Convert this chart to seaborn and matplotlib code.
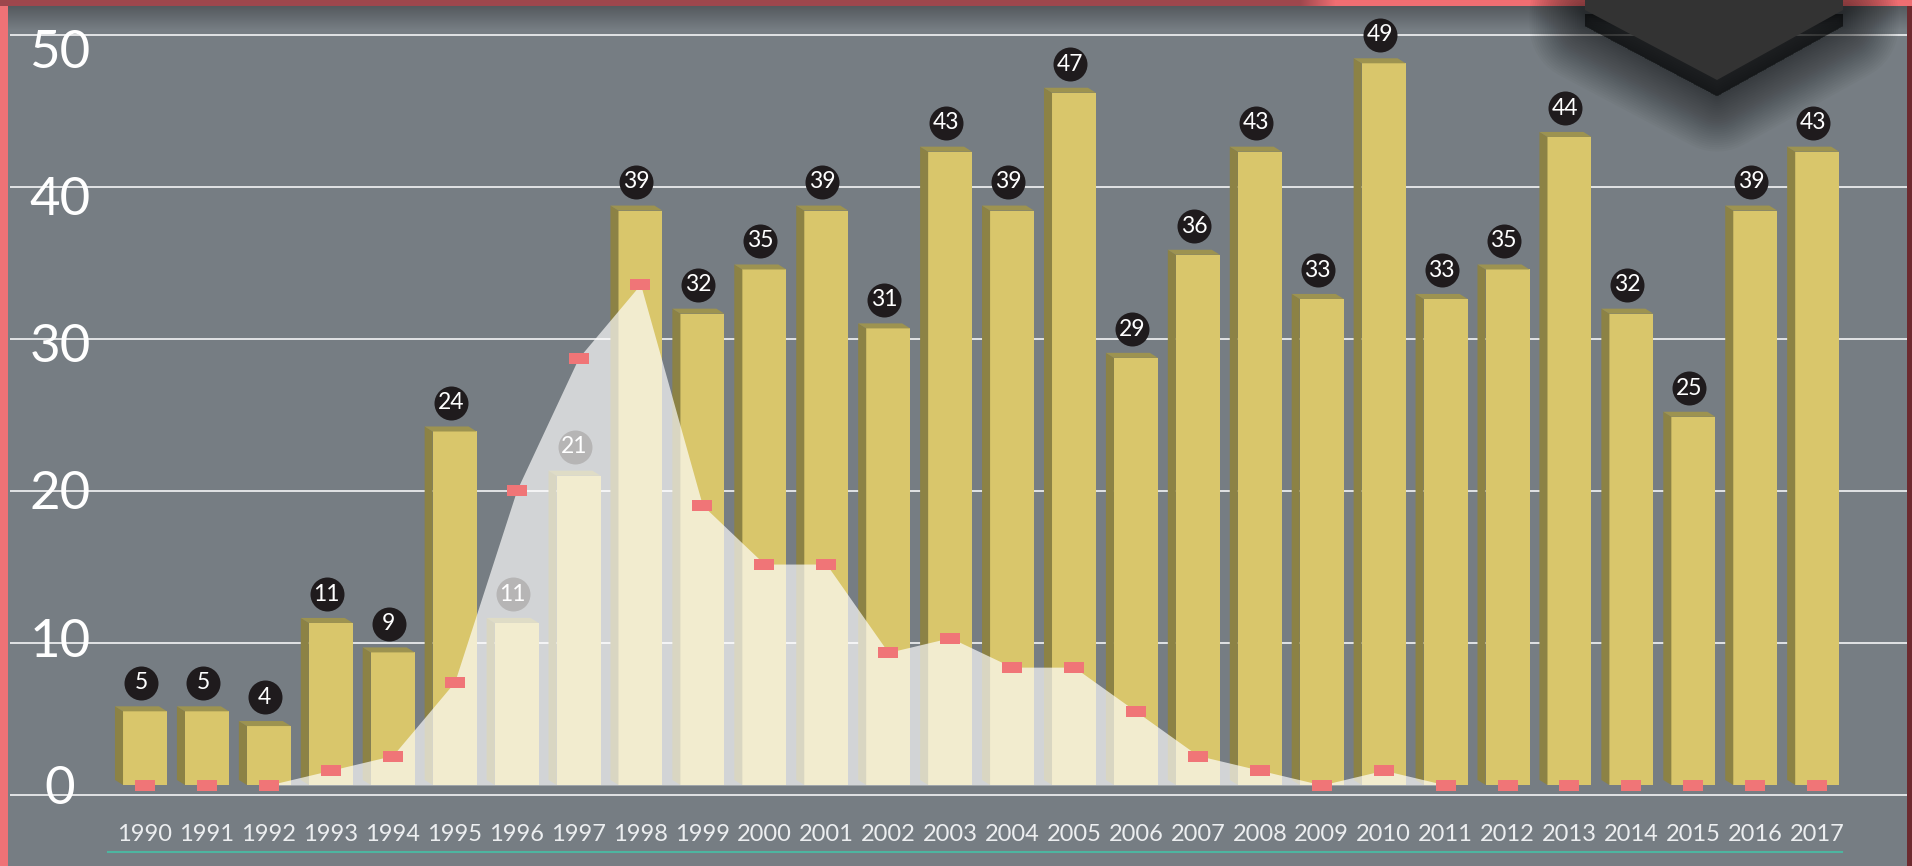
import matplotlib
matplotlib.use('Agg')
import matplotlib.pyplot as plt
from matplotlib import font_manager
from matplotlib.patches import Polygon, Rectangle
import numpy as np
import pandas as pd
import seaborn as sns

# values
years = [str(y) for y in range(1990, 2018)]
totals = [5, 5, 4, 11, 9, 24, 11, 21, 39, 32, 35, 39, 31, 43, 39, 47, 29, 36,
          43, 33, 49, 33, 35, 44, 32, 25, 39, 43]
second = [0, 0, 0, 1, 2, 7, 20, 29, 34, 19, 15, 15, 9, 10, 8, 8, 5, 2, 1, 0,
          1, 0, 0, 0, 0, 0, 0, 0]
grid_values = [0, 10, 20, 30, 40, 50]

# colours
BG = '#767d83'
FRONT = '#d9c66b'
SIDE = '#8c8245'
TOP = '#9d9350'
RED = '#f07577'
BADGE = '#1f1b1d'

installed = {f.name for f in font_manager.fontManager.ttflist}
FONT = next((f for f in ['Lato', 'Roboto', 'Open Sans', 'DejaVu Sans'] if f in installed), 'DejaVu Sans')
plt.rcParams['font.family'] = [FONT, 'DejaVu Sans']
plt.rcParams['font.weight'] = 'normal'

W, H = 1912, 866
fig = plt.figure(figsize=(W / 100, H / 100), dpi=100, facecolor=BG)
L, R, T, B = 10, 1907, 6, 810
rect = [L / W, 1 - B / H, (R - L) / W, (B - T) / H]

# the gridlines of the original sit a little off the bar scale
ax_grid = fig.add_axes(rect)
ax_grid.set_xlim(0, 1)
ax_grid.set_ylim(-0.99, 51.91)
for v in grid_values:
    ax_grid.axhline(v, color='white', lw=1.1)
ax_grid.axis('off')

ax = fig.add_axes(rect)
ax.patch.set_alpha(0)
df = pd.DataFrame({'year': years, 'total': totals, 'second': second})

sns.barplot(data=df, x='year', y='total', color=FRONT, saturation=1, width=0.71,
            errorbar=None, linewidth=0, zorder=2, ax=ax)

# fake 3d: side and top faces
dx, dy = 0.13, 0.34
for p in list(ax.patches):
    x0, w, h = p.get_x(), p.get_width(), p.get_height()
    ax.add_patch(Polygon([(x0, 0), (x0 - dx, dy), (x0 - dx, h + dy), (x0, h)],
                         closed=True, fc=SIDE, lw=0, zorder=2))
    ax.add_patch(Polygon([(x0, h), (x0 - dx, h + dy), (x0 + w - dx, h + dy), (x0 + w, h)],
                         closed=True, fc=TOP, lw=0, zorder=2))

# value badges
pos = np.arange(len(years))
ax.scatter(pos - 0.065, np.array(totals) + 1.95, s=(34 * 0.72) ** 2, color=BADGE,
           linewidths=0, zorder=3)
for x, v in zip(pos, totals):
    ax.text(x - 0.065, v + 1.95, str(v), color='white', fontsize=16.5, ha='center',
            va='center', zorder=4)

# second series: translucent area + red ticks
ax.fill_between(pos, 0, second, color='white', alpha=0.68, lw=0, zorder=5)
rect_marker = [(-1, -0.55), (1, -0.55), (1, 0.55), (-1, 0.55)]
sns.scatterplot(data=df, x='year', y='second', marker=rect_marker, s=14.4 ** 2,
                color=RED, linewidth=0, zorder=6, ax=ax)

ax.set_xlim(-2.18, 28.45)
ax.set_ylim(-1.70, 52.89)
ax.set_yticks(grid_values)
ax.tick_params(axis='y', length=0, pad=-36, labelsize=38, labelcolor='white')
for lab in ax.get_yticklabels():
    lab.set_ha('center')
ax.tick_params(axis='x', length=0, pad=10, labelsize=17, labelcolor='#eceef0')
ax.set_xlabel('')
ax.set_ylabel('')
for s in ax.spines.values():
    s.set_visible(False)

# frame decorations in pixel coordinates
ax_d = fig.add_axes([0, 0, 1, 1], zorder=20)
ax_d.patch.set_alpha(0)
ax_d.axis('off')

ax_d.add_patch(Rectangle((0, 0), 8, H, color='#ef7276', lw=0, zorder=1))
ax_d.add_patch(Rectangle((1907, 0), 5, H, color='#6d2a2f', lw=0, zorder=1))

xs = np.arange(W)
t = np.clip((xs - 1300) / 35.0, 0, 1)[:, None]
dark = np.array([158, 71, 77]) / 255
bright = np.array([239, 110, 114]) / 255
strip = dark * (1 - t) + bright * t
ax_d.imshow(strip[None, :, :], extent=(0, W, 6, 0), aspect='auto', zorder=2,
            interpolation='bilinear')

shade = np.zeros((24, 1, 4))
shade[:, 0, 3] = np.linspace(0.28, 0, 24)
ax_d.imshow(shade, extent=(8, 1907, 30, 6), aspect='auto', zorder=2,
            interpolation='bilinear')

tab = [(1585, -2), (1843, -2), (1843, 10), (1717, 80), (1585, 10)]
for lw in np.linspace(80, 2, 26):
    ax_d.add_patch(Polygon([(x, y + 16) for x, y in tab], closed=True,
                           fc=(0, 0, 0, 0.022), ec=(0, 0, 0, 0.022), lw=lw,
                           joinstyle='round', zorder=3))
ax_d.add_patch(Polygon(tab, closed=True, fc='#333333', lw=0, zorder=4))

ax_d.plot([108, 1842], [852, 852], color='#4db5a0', lw=1.5, zorder=3)
ax_d.set_xlim(0, W)
ax_d.set_ylim(H, 0)

fig.savefig('out.png', dpi=100, facecolor=BG)
